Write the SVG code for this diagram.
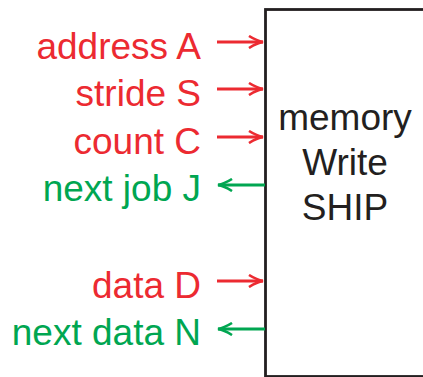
<svg xmlns="http://www.w3.org/2000/svg" width="423" height="377" viewBox="0 0 423 377">
<style>
text{font-family:"Liberation Sans",Arial,sans-serif;font-size:37px}
.r{fill:#ec2a31}.g{fill:#00a651}.k{fill:#231f20}
.lbl{text-anchor:end}
.c{text-anchor:middle}
.ar{stroke:#ec2a31;stroke-width:2.8;fill:none}
.ag{stroke:#00a651;stroke-width:2.8;fill:none}
</style>
<defs>
<marker id="mr" markerWidth="16" markerHeight="14" refX="15" refY="7" orient="auto" markerUnits="userSpaceOnUse"><path d="M1,1 Q9,6 15,7 Q9,8 1,13" fill="none" stroke="#ec2a31" stroke-width="2.6"/></marker>
<marker id="mg" markerWidth="16" markerHeight="14" refX="15" refY="7" orient="auto" markerUnits="userSpaceOnUse"><path d="M1,1 Q9,6 15,7 Q9,8 1,13" fill="none" stroke="#00a651" stroke-width="2.6"/></marker>
</defs>
<g id="ship">
<rect x="265.5" y="9.5" width="170" height="367" fill="#fff" stroke="#231f20" stroke-width="2.8"/>
<text class="k c" x="345" y="129.5">memory</text>
<text class="k c" x="345" y="174.5">Write</text>
<text class="k c" x="345" y="220">SHIP</text>
</g>
<g id="labels">
<text id="addr" class="r lbl" x="201" y="58.5">address A</text>
<text id="stride" class="r lbl" x="201" y="106">stride S</text>
<text id="count" class="r lbl" x="201" y="153.5">count C</text>
<text id="nextjob" class="g lbl" x="201" y="201">next job J</text>
<text id="data" class="r lbl" x="201" y="297.5">data D</text>
<text id="nextdata" class="g lbl" x="201" y="345">next data N</text>
</g>
<g id="connectors">
<line class="ar" x1="217" y1="42" x2="263" y2="42" marker-end="url(#mr)"/>
<line class="ar" x1="217" y1="89" x2="263" y2="89" marker-end="url(#mr)"/>
<line class="ar" x1="217" y1="137" x2="263" y2="137" marker-end="url(#mr)"/>
<line class="ag" x1="265" y1="185" x2="218" y2="185" marker-end="url(#mg)"/>
<line class="ar" x1="217" y1="281" x2="263" y2="281" marker-end="url(#mr)"/>
<line class="ag" x1="265" y1="329" x2="218" y2="329" marker-end="url(#mg)"/>
</g>
</svg>
